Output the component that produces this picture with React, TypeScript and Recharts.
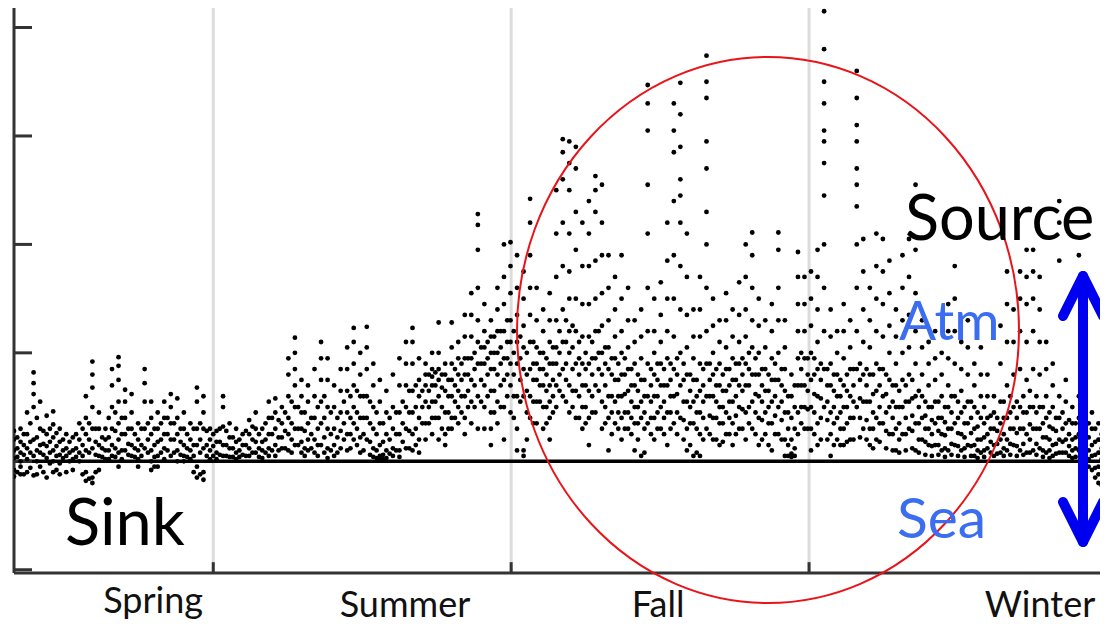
import { ReferenceLine, Scatter, ScatterChart, XAxis, YAxis } from 'recharts'

// each row: [day, ...flux values measured that day]
const springDays: number[][] = [
  [0, 0.28, 0.2, 0.1, 0.03, -0.08, -0.14],
  [1, 0.22, 0.12, 0.04, -0.1],
  [2, 0.3, 0.18, 0.08, -0.05, -0.12, 0.0],
  [3, 0.25, 0.15, 0.06, -0.12],
  [4, 0.45, 0.25, 0.12, 0.02, -0.1],
  [5, 0.35, 0.18, 0.08, -0.06],
  [6, 0.82, 0.72, 0.62, 0.5, 0.2, 0.05, -0.13],
  [7, 0.4, 0.22, 0.1, 0.0, -0.12],
  [8, 0.55, 0.3, 0.15, 0.08, -0.05],
  [9, 0.28, 0.16, 0.06, -0.1],
  [10, 0.42, 0.25, 0.14, 0.03, -0.15],
  [11, 0.3, 0.18, 0.08, -0.02],
  [12, 0.46, 0.34, 0.22, 0.1, 0.0, -0.1],
  [13, 0.26, 0.14, 0.05, -0.08],
  [14, 0.3, 0.18, 0.06, -0.02, -0.12],
  [15, 0.2, 0.1, 0.03],
  [16, 0.25, 0.12, 0.05, -0.1],
  [17, 0.18, 0.08, 0.0],
  [18, 0.22, 0.1, 0.02, -0.08],
  [19, 0.25, 0.12, 0.04],
  [20, 0.35, 0.2, 0.08, 0.0],
  [21, 0.3, 0.15, 0.05, -0.12],
  [22, 0.6, 0.4, 0.25, 0.1, -0.1, -0.18],
  [23, 0.35, 0.2, 0.08, -0.16],
  [24, 0.92, 0.8, 0.68, 0.5, 0.3, 0.12, -0.15, -0.2],
  [25, 0.3, 0.18, 0.06, -0.1],
  [26, 0.45, 0.3, 0.15, 0.05, -0.08],
  [27, 0.22, 0.12, 0.04],
  [28, 0.3, 0.2, 0.1, 0.02],
  [29, 0.4, 0.22, 0.1, 0.02],
  [30, 0.85, 0.7, 0.5, 0.3, 0.15, 0.05],
  [31, 0.45, 0.28, 0.12, 0.04],
  [32, 0.96, 0.88, 0.75, 0.55, 0.35, 0.2, 0.08, -0.05],
  [33, 0.4, 0.25, 0.1, 0.02],
  [34, 0.66, 0.55, 0.4, 0.25, 0.1],
  [35, 0.3, 0.16, 0.06],
  [36, 0.62, 0.45, 0.3, 0.15, 0.05],
  [37, 0.25, 0.12, 0.04],
  [38, 0.35, 0.2, 0.1, 0.02, -0.05],
  [39, 0.3, 0.15, 0.05],
  [40, 0.85, 0.72, 0.55, 0.3, 0.12],
  [41, 0.35, 0.2, 0.08],
  [42, 0.55, 0.4, 0.25, 0.1, 0.0, -0.08],
  [43, 0.3, 0.15, 0.04, -0.05],
  [44, 0.45, 0.3, 0.18, 0.05, -0.05],
  [45, 0.35, 0.2, 0.08],
  [46, 0.55, 0.4, 0.25, 0.12, 0.02],
  [47, 0.4, 0.25, 0.1],
  [48, 0.62, 0.5, 0.35, 0.2, 0.05],
  [49, 0.35, 0.2, 0.08],
  [50, 0.58, 0.4, 0.25, 0.1, 0.0],
  [51, 0.3, 0.18, 0.06],
  [52, 0.45, 0.3, 0.15, 0.05, 0.0],
  [53, 0.25, 0.12, 0.04],
  [54, 0.35, 0.2, 0.1, 0.02],
  [55, 0.3, 0.15, 0.05, -0.1],
  [56, 0.68, 0.55, 0.3, 0.15, -0.05, -0.15],
  [57, 0.35, 0.2, 0.08, -0.12],
  [58, 0.6, 0.45, 0.3, 0.12, -0.1, -0.17],
  [59, 0.28, 0.15, 0.05],
  [60, 0.3, 0.2, 0.1, 0.02],
]

const summerDays: number[][] = [
  [61, 0.25, 0.14, 0.05],
  [62, 0.28, 0.18, 0.08, 0.02],
  [63, 0.3, 0.18, 0.06],
  [64, 0.6, 0.5, 0.32, 0.15, 0.05],
  [65, 0.28, 0.15, 0.05],
  [66, 0.35, 0.22, 0.12, 0.04],
  [67, 0.22, 0.12, 0.04],
  [68, 0.3, 0.18, 0.08, 0.02],
  [69, 0.2, 0.1, 0.04],
  [70, 0.25, 0.15, 0.06],
  [71, 0.28, 0.15, 0.05],
  [72, 0.38, 0.25, 0.12, 0.05],
  [73, 0.32, 0.2, 0.08],
  [74, 0.45, 0.3, 0.18, 0.08],
  [75, 0.25, 0.12, 0.04],
  [76, 0.3, 0.18, 0.1, 0.03],
  [77, 0.35, 0.2, 0.08],
  [78, 0.55, 0.4, 0.25, 0.12, 0.05],
  [79, 0.4, 0.25, 0.1],
  [80, 0.58, 0.45, 0.3, 0.15, 0.05],
  [81, 0.38, 0.22, 0.1],
  [82, 0.5, 0.35, 0.22, 0.12],
  [83, 0.45, 0.28, 0.12],
  [84, 0.95, 0.8, 0.6, 0.4, 0.25, 0.1],
  [85, 0.55, 0.35, 0.2, 0.08],
  [86, 1.14, 1.0, 0.85, 0.7, 0.5, 0.3, 0.15],
  [87, 0.5, 0.3, 0.15],
  [88, 0.75, 0.6, 0.45, 0.3, 0.18, 0.08],
  [89, 0.45, 0.28, 0.12, 0.05],
  [90, 0.7, 0.55, 0.35, 0.2, 0.1],
  [91, 0.4, 0.25, 0.12],
  [92, 0.85, 0.6, 0.4, 0.2, 0.08],
  [93, 0.5, 0.3, 0.15, 0.05],
  [94, 1.1, 0.95, 0.75, 0.55, 0.35, 0.15],
  [95, 0.6, 0.4, 0.22, 0.08],
  [96, 0.95, 0.75, 0.5, 0.3, 0.12, 0.03],
  [97, 0.45, 0.25, 0.1],
  [98, 0.7, 0.5, 0.3, 0.15, 0.05],
  [99, 0.4, 0.22, 0.08],
  [100, 0.85, 0.65, 0.45, 0.28, 0.12],
  [101, 0.55, 0.35, 0.2],
  [102, 1.05, 0.85, 0.65, 0.45, 0.25, 0.1],
  [103, 0.6, 0.4, 0.25, 0.12],
  [104, 1.23, 1.1, 0.9, 0.7, 0.5, 0.35, 0.2],
  [105, 0.65, 0.45, 0.3, 0.15],
  [106, 1.0, 0.8, 0.6, 0.4, 0.22, 0.08],
  [107, 0.6, 0.4, 0.25, 0.1],
  [108, 1.24, 1.05, 0.85, 0.6, 0.4, 0.2],
  [109, 0.55, 0.35, 0.18, 0.06],
  [110, 0.9, 0.7, 0.5, 0.3, 0.12, 0.04],
  [111, 0.45, 0.25, 0.1, 0.03],
  [112, 0.75, 0.55, 0.35, 0.15, 0.05, 0.02],
  [113, 0.35, 0.18, 0.06, 0.02],
  [114, 0.65, 0.45, 0.25, 0.1, 0.03],
  [115, 0.4, 0.2, 0.07],
  [116, 0.8, 0.5, 0.3, 0.12, 0.05],
  [117, 0.45, 0.25, 0.1],
  [118, 0.95, 0.7, 0.45, 0.25, 0.1, 0.04],
  [119, 0.55, 0.35, 0.18],
  [120, 1.1, 0.9, 0.7, 0.5, 0.3, 0.12],
  [121, 0.65, 0.45, 0.28, 0.12],
  [122, 1.23, 1.1, 0.9, 0.65, 0.45, 0.25, 0.1],
  [123, 0.7, 0.5, 0.3, 0.15],
  [124, 0.95, 0.75, 0.6, 0.4, 0.2, 0.08],
  [125, 0.65, 0.5, 0.35],
  [126, 0.9, 0.8, 0.7, 0.55, 0.35, 0.2],
  [127, 0.8, 0.65, 0.5, 0.35],
  [128, 1.0, 0.85, 0.78, 0.7, 0.55, 0.4, 0.25],
  [129, 0.82, 0.7, 0.55, 0.4],
  [130, 1.28, 1.0, 0.85, 0.75, 0.6, 0.4, 0.2],
  [131, 0.8, 0.68, 0.5, 0.3],
  [132, 0.9, 0.8, 0.65, 0.45, 0.25, 0.15],
  [133, 0.75, 0.6, 0.45, 0.3],
  [134, 1.28, 1.05, 0.9, 0.75, 0.6, 0.4, 0.3],
  [135, 0.85, 0.7, 0.55, 0.4],
  [136, 1.1, 0.95, 0.8, 0.65, 0.5, 0.35],
  [137, 0.9, 0.75, 0.6, 0.45],
  [138, 1.35, 1.15, 0.95, 0.8, 0.6, 0.4, 0.25],
  [139, 0.95, 0.8, 0.65, 0.5],
  [140, 1.55, 1.35, 1.15, 0.95, 0.75, 0.55, 0.35],
  [141, 1.0, 0.85, 0.7, 0.5],
  [142, 2.28, 2.18, 1.95, 1.6, 1.3, 1.1, 0.9, 0.6, 0.3],
  [143, 1.05, 0.9, 0.75, 0.55],
  [144, 1.45, 1.2, 1.05, 0.9, 0.7, 0.5, 0.3],
  [145, 1.1, 0.95, 0.8, 0.6],
  [146, 1.3, 1.15, 1.0, 0.85, 0.65, 0.45, 0.3, 0.15],
  [147, 1.15, 1.0, 0.85, 0.65, 0.45],
  [148, 1.6, 1.4, 1.2, 1.0, 0.8, 0.55, 0.35],
  [149, 1.2, 1.05, 0.9, 0.7, 0.5],
  [150, 2.0, 1.7, 1.45, 1.2, 0.95, 0.75, 0.5, 0.2],
  [151, 1.3, 1.1, 0.95, 0.8, 0.6],
]

const fallDays: number[][] = [
  [152, 2.02, 1.8, 1.55, 1.3, 1.1, 0.9, 0.7, 0.45],
  [153, 1.2, 1.0, 0.8, 0.6, 0.4],
  [154, 1.9, 1.6, 1.35, 1.1, 0.9, 0.6, 0.3, 0.1],
  [155, 1.15, 0.95, 0.75, 0.55],
  [156, 1.75, 1.5, 1.25, 1.05, 0.85, 0.6, 0.1, 0.05],
  [157, 1.0, 0.8, 0.65, 0.45, 0.2],
  [158, 2.42, 2.2, 1.9, 1.6, 1.35, 1.1, 0.85, 0.6, 0.4],
  [159, 1.1, 0.9, 0.75, 0.55, 0.35],
  [160, 1.6, 1.3, 1.05, 0.9, 0.75, 0.55, 0.35],
  [161, 1.0, 0.85, 0.7, 0.55],
  [162, 1.4, 1.2, 1.0, 0.85, 0.7, 0.5, 0.3],
  [163, 0.95, 0.8, 0.65, 0.5, 0.35],
  [164, 1.55, 1.3, 1.1, 0.9, 0.7, 0.55, 0.4, 0.2],
  [165, 1.05, 0.9, 0.75, 0.6, 0.45],
  [166, 2.5, 2.1, 1.7, 1.3, 1.05, 0.9, 0.7, 0.5],
  [167, 1.2, 1.0, 0.8, 0.65],
  [168, 2.97, 2.85, 2.6, 2.2, 1.8, 1.4, 1.1, 0.85, 0.6],
  [169, 1.3, 1.1, 0.9, 0.75, 0.55],
  [170, 2.95, 2.75, 2.5, 2.1, 1.75, 1.5, 1.2, 1.0, 0.7, 0.45],
  [171, 1.25, 1.05, 0.85, 0.65, 0.5],
  [172, 2.9, 2.7, 2.3, 1.95, 1.5, 1.2, 0.9, 0.65, 0.4],
  [173, 1.1, 0.95, 0.8, 0.6, 0.4],
  [174, 2.2, 1.8, 1.45, 1.15, 0.9, 0.7, 0.5, 0.3],
  [175, 1.0, 0.85, 0.7, 0.5, 0.35],
  [176, 2.4, 2.1, 1.8, 1.45, 1.15, 0.9, 0.65, 0.4, 0.15],
  [177, 1.1, 0.95, 0.8, 0.6, 0.45],
  [178, 2.63, 2.5, 2.3, 1.85, 1.5, 1.2, 0.95, 0.7, 0.45],
  [179, 1.2, 1.0, 0.85, 0.65],
  [180, 2.55, 2.2, 1.9, 1.55, 1.25, 1.0, 0.8, 0.55, 0.3],
  [181, 1.05, 0.9, 0.7, 0.5, 0.35],
  [182, 1.9, 1.6, 1.3, 1.05, 0.85, 0.6, 0.4, 0.1],
  [183, 0.95, 0.8, 0.6, 0.45, 0.25],
  [184, 1.7, 1.4, 1.15, 0.95, 0.75, 0.55, 0.35],
  [185, 0.9, 0.75, 0.6, 0.45, 0.3],
  [186, 1.9, 1.5, 1.2, 1.0, 0.8, 0.6, 0.4, 0.2],
  [187, 0.95, 0.8, 0.62, 0.45, 0.3],
  [188, 1.6, 1.3, 1.05, 0.85, 0.65, 0.45, 0.3],
  [189, 0.85, 0.7, 0.55, 0.4, 0.25],
  [190, 1.3, 1.1, 0.9, 0.7, 0.5, 0.35, 0.1],
  [191, 0.8, 0.65, 0.5, 0.35, 0.2],
  [192, 1.4, 1.15, 0.95, 0.75, 0.55, 0.4, 0.05],
  [193, 0.75, 0.6, 0.45, 0.3, 0.08],
  [194, 3.47, 3.3, 3.05, 2.55, 2.1, 1.6, 1.2, 0.9, 0.6, 0.35],
  [195, 0.85, 0.7, 0.55, 0.4, 0.25],
  [196, 1.5, 1.2, 1.0, 0.8, 0.6, 0.4, 0.2],
  [197, 0.9, 0.75, 0.6, 0.45, 0.3],
  [198, 1.65, 1.35, 1.1, 0.9, 0.7, 0.5, 0.3],
  [199, 0.85, 0.7, 0.55, 0.4, 0.25],
  [200, 2.2, 1.85, 1.5, 1.2, 0.95, 0.7, 0.45, 0.15],
  [201, 0.9, 0.75, 0.6, 0.45, 0.3],
  [202, 3.3, 3.05, 2.85, 2.4, 1.9, 1.5, 1.15, 0.85, 0.6, 0.35],
  [203, 0.95, 0.8, 0.62, 0.45, 0.25],
  [204, 3.49, 3.2, 2.9, 2.6, 2.45, 2.2, 1.8, 1.4, 1.0, 0.7, 0.4],
  [205, 0.9, 0.75, 0.55, 0.38, 0.2],
  [206, 2.1, 1.7, 1.35, 1.05, 0.8, 0.55, 0.3, 0.1],
  [207, 0.8, 0.65, 0.5, 0.35, 0.15],
  [208, 1.4, 1.15, 0.95, 0.75, 0.55, 0.35, 0.05],
  [209, 0.75, 0.6, 0.45, 0.3, 0.08],
  [210, 1.7, 1.4, 1.15, 0.9, 0.65, 0.45, 0.25, 0.05],
  [211, 0.85, 0.7, 0.55, 0.4, 0.2],
  [212, 3.74, 3.5, 3.35, 2.95, 2.7, 2.3, 2.0, 1.6, 1.2, 0.9, 0.6, 0.3],
  [213, 0.9, 0.75, 0.6, 0.42, 0.25],
  [214, 1.5, 1.25, 1.0, 0.8, 0.6, 0.4, 0.2],
  [215, 0.85, 0.7, 0.55, 0.4, 0.2],
  [216, 1.3, 1.1, 0.9, 0.7, 0.5, 0.35, 0.15],
  [217, 0.8, 0.65, 0.5, 0.35, 0.18],
  [218, 1.55, 1.3, 1.05, 0.85, 0.65, 0.45, 0.25],
  [219, 0.85, 0.7, 0.55, 0.4, 0.25],
  [220, 1.4, 1.15, 0.95, 0.75, 0.55, 0.35, 0.15],
  [221, 0.9, 0.75, 0.6, 0.42, 0.25],
  [222, 1.65, 1.35, 1.1, 0.9, 0.7, 0.5, 0.3],
  [223, 0.95, 0.8, 0.65, 0.48, 0.3],
  [224, 2.0, 1.7, 1.4, 1.15, 0.9, 0.7, 0.45, 0.2],
  [225, 1.0, 0.85, 0.7, 0.5, 0.35],
  [226, 2.11, 1.9, 1.6, 1.3, 1.05, 0.8, 0.55, 0.3],
  [227, 0.95, 0.8, 0.62, 0.45, 0.25],
  [228, 1.5, 1.25, 1.0, 0.8, 0.6, 0.4, 0.15],
  [229, 0.85, 0.7, 0.55, 0.38, 0.2],
  [230, 1.3, 1.05, 0.85, 0.65, 0.45, 0.25],
  [231, 0.8, 0.65, 0.5, 0.35, 0.15],
  [232, 1.45, 1.2, 0.95, 0.75, 0.55, 0.35, 0.1],
  [233, 0.9, 0.75, 0.6, 0.42, 0.25],
  [234, 2.11, 1.95, 1.6, 1.3, 1.0, 0.75, 0.5, 0.25],
  [235, 0.85, 0.7, 0.55, 0.38, 0.2],
  [236, 1.3, 1.05, 0.85, 0.65, 0.45, 0.2, 0.05],
  [237, 0.6, 0.45, 0.3, 0.15, 0.05],
  [238, 0.8, 0.6, 0.4, 0.2, 0.07, 0.04],
  [239, 0.7, 0.5, 0.3, 0.12, 0.05],
  [240, 1.93, 1.7, 1.45, 1.2, 0.95, 0.7, 0.45, 0.25],
  [241, 1.0, 0.85, 0.7, 0.5, 0.35],
  [242, 1.7, 1.45, 1.2, 0.95, 0.7, 0.5, 0.3],
  [243, 0.95, 0.8, 0.65, 0.48, 0.3],
]

const winterDays: number[][] = [
  [244, 1.75, 1.5, 1.25, 1.0, 0.75, 0.5, 0.3, 0.1],
  [245, 0.95, 0.8, 0.62, 0.45, 0.25],
  [246, 1.95, 1.7, 1.4, 1.1, 0.85, 0.6, 0.35, 0.15],
  [247, 0.9, 0.75, 0.58, 0.4, 0.2],
  [248, 4.15, 3.8, 3.5, 3.3, 3.05, 2.95, 2.75, 2.45, 2.0, 1.6, 1.2, 0.85, 0.5],
  [249, 0.85, 0.7, 0.55, 0.38, 0.2],
  [250, 1.4, 1.15, 0.9, 0.7, 0.45, 0.25, 0.05],
  [251, 0.8, 0.65, 0.5, 0.35, 0.15],
  [252, 1.2, 1.0, 0.8, 0.6, 0.4, 0.2],
  [253, 0.75, 0.6, 0.45, 0.3, 0.15],
  [254, 1.45, 1.2, 0.95, 0.7, 0.5, 0.3, 0.15],
  [255, 0.8, 0.65, 0.5, 0.35, 0.18],
  [256, 1.3, 1.05, 0.85, 0.6, 0.4, 0.2],
  [257, 0.85, 0.7, 0.55, 0.4, 0.2],
  [258, 3.6, 3.35, 3.1, 2.95, 2.7, 2.55, 2.35, 2.0, 1.6, 1.2, 0.85, 0.5],
  [259, 0.9, 0.75, 0.58, 0.4, 0.22],
  [260, 2.05, 1.75, 1.4, 1.1, 0.8, 0.55, 0.3],
  [261, 0.85, 0.7, 0.55, 0.38, 0.2],
  [262, 1.6, 1.3, 1.05, 0.8, 0.55, 0.3, 0.15],
  [263, 0.8, 0.62, 0.45, 0.3, 0.12],
  [264, 2.1, 1.8, 1.5, 1.2, 0.9, 0.65, 0.4, 0.2],
  [265, 0.85, 0.7, 0.5, 0.35, 0.18],
  [266, 2.05, 1.75, 1.45, 1.15, 0.85, 0.6, 0.35],
  [267, 0.8, 0.62, 0.45, 0.28, 0.12],
  [268, 1.85, 1.55, 1.25, 1.0, 0.75, 0.5, 0.25],
  [269, 0.7, 0.55, 0.4, 0.25, 0.1],
  [270, 1.4, 1.15, 0.9, 0.7, 0.5, 0.3, 0.1],
  [271, 0.65, 0.5, 0.35, 0.2, 0.08],
  [272, 1.9, 1.6, 1.3, 1.0, 0.75, 0.5, 0.25],
  [273, 0.7, 0.55, 0.4, 0.25, 0.1],
  [274, 2.05, 1.7, 1.35, 1.05, 0.8, 0.55, 0.3],
  [275, 0.75, 0.58, 0.42, 0.28, 0.12],
  [276, 2.55, 2.3, 1.95, 1.55, 1.2, 0.9, 0.6, 0.35, 0.1],
  [277, 0.65, 0.5, 0.35, 0.2, 0.08],
  [278, 1.3, 1.05, 0.8, 0.6, 0.4, 0.2],
  [279, 0.55, 0.42, 0.3, 0.18, 0.06],
  [280, 1.1, 0.9, 0.7, 0.5, 0.3, 0.15],
  [281, 0.5, 0.38, 0.25, 0.14, 0.05],
  [282, 1.2, 0.95, 0.75, 0.55, 0.35, 0.15],
  [283, 0.55, 0.4, 0.28, 0.15, 0.06],
  [284, 1.0, 0.8, 0.6, 0.4, 0.25, 0.1],
  [285, 0.5, 0.36, 0.24, 0.12, 0.04],
  [286, 1.45, 1.2, 0.95, 0.7, 0.5, 0.3, 0.1],
  [287, 0.6, 0.45, 0.3, 0.16, 0.06],
  [288, 1.8, 1.5, 1.2, 0.9, 0.6, 0.35, 0.15],
  [289, 0.55, 0.4, 0.26, 0.14, 0.05],
  [290, 1.1, 0.85, 0.65, 0.45, 0.25, 0.1],
  [291, 0.5, 0.35, 0.22, 0.12, 0.04],
  [292, 1.3, 1.05, 0.8, 0.55, 0.35, 0.15],
  [293, 0.55, 0.4, 0.26, 0.14, 0.05],
  [294, 0.9, 0.7, 0.5, 0.3, 0.15, 0.05],
  [295, 0.45, 0.32, 0.2, 0.1, 0.03],
  [296, 1.05, 0.8, 0.6, 0.4, 0.2, 0.08],
  [297, 0.5, 0.35, 0.22, 0.1, 0.04],
  [298, 0.8, 0.6, 0.4, 0.25, 0.12],
  [299, 0.42, 0.3, 0.18, 0.08],
  [300, 0.6, 0.45, 0.3, 0.15, 0.05],
  [301, 0.4, 0.28, 0.16, 0.07],
  [302, 1.25, 0.9, 0.55, 0.35, 0.2, 0.08],
  [303, 0.55, 0.4, 0.25, 0.12, 0.05],
  [304, 1.75, 1.45, 1.1, 0.7, 0.4, 0.2, 0.1],
  [305, 0.6, 0.45, 0.3, 0.16, 0.06],
  [306, 1.4, 1.1, 0.8, 0.5, 0.3, 0.15],
  [307, 0.55, 0.4, 0.26, 0.14, 0.05],
  [308, 1.75, 1.5, 1.2, 0.85, 0.5, 0.3, 0.1],
  [309, 0.6, 0.45, 0.3, 0.16, 0.06],
  [310, 1.95, 1.7, 1.45, 1.1, 0.75, 0.45, 0.25, 0.08],
  [311, 0.65, 0.5, 0.34, 0.2, 0.08],
  [312, 1.95, 1.75, 1.5, 1.2, 0.85, 0.5, 0.3, 0.1],
  [313, 0.6, 0.45, 0.3, 0.16, 0.06],
  [314, 1.7, 1.4, 1.1, 0.8, 0.5, 0.3, 0.12],
  [315, 0.5, 0.35, 0.22, 0.1, 0.04],
  [316, 1.1, 0.85, 0.6, 0.4, 0.22, 0.08],
  [317, 0.45, 0.32, 0.2, 0.1, 0.03],
  [318, 0.9, 0.7, 0.5, 0.3, 0.15, 0.05],
  [319, 0.4, 0.28, 0.16, 0.07],
  [320, 2.4, 2.2, 1.85, 0.6, 0.4, 0.2, 0.08],
  [321, 0.45, 0.3, 0.18, 0.08],
  [322, 0.75, 0.55, 0.35, 0.2, 0.08],
  [323, 0.38, 0.25, 0.14, 0.05],
  [324, 0.5, 0.35, 0.2, 0.1, 0.03],
  [325, 0.35, 0.22, 0.12, 0.04],
  [326, 1.9, 1.6, 0.6, 0.4, 0.25, 0.1],
  [327, 0.4, 0.28, 0.15, 0.06],
  [328, 0.55, 0.4, 0.25, 0.12, 0.02],
  [329, 0.35, 0.22, 0.1, 0.02, -0.05],
  [330, 0.45, 0.3, 0.15, 0.05, -0.08],
  [331, 0.3, 0.18, 0.06, -0.06, -0.15],
  [332, 0.35, 0.2, 0.08, -0.05, -0.12, -0.2],
  [333, 0.25, 0.12, 0.02, -0.12, -0.22],
  [334, 0.3, 0.15, 0.03, -0.1],
]

const seasonLabels = ['Spring', 'Summer', 'Fall', 'Winter']
const seasonLabelDays = [42.6, 119.7, 197.2, 314.1]
const seasonBoundaries = [61, 152.2, 243.4]
const yTicks = [-1, 0, 1, 2, 3, 4]

const points = [...springDays, ...summerDays, ...fallDays, ...winterDays].flatMap(([day, ...vals]) =>
  vals.map((flux) => ({ day, flux }))
)

const FONT = 'Lato, "Open Sans", sans-serif'

function SeasonTick({ x, y, payload }: any) {
  const i = seasonLabelDays.indexOf(payload.value)
  const dy = i === 0 ? 32 : 36
  return (
    <text x={x} y={y + dy} textAnchor="middle" fontFamily={FONT} fontSize={36} fill="#111">
      {seasonLabels[i]}
    </text>
  )
}

const dot = (p: any) => <circle cx={p.cx} cy={p.cy} r={2.4} fill="#000" />

export default function App() {
  return (
    <div style={{ position: 'relative', width: 1100, height: 616 }}>
      <ScatterChart width={1100} height={616} margin={{ top: 0, right: 3, bottom: 0, left: 6 }}>
        <XAxis
          type="number"
          dataKey="day"
          domain={[0, 334]}
          ticks={seasonLabelDays}
          tick={<SeasonTick />}
          tickLine={false}
          height={51}
          axisLine={{ stroke: '#333', strokeWidth: 3 }}
          allowDataOverflow
        />
        <YAxis
          type="number"
          dataKey="flux"
          domain={[-1.03, 4.18]}
          ticks={yTicks}
          tick={() => <g />}
          mirror
          tickSize={18}
          tickLine={{ stroke: '#333', strokeWidth: 3 }}
          axisLine={{ stroke: '#333', strokeWidth: 3 }}
          allowDataOverflow
        />
        {seasonBoundaries.map((d) => (
          <ReferenceLine key={d} x={d} stroke="#dcdcdc" strokeWidth={3} />
        ))}
        {seasonBoundaries.map((d) => (
          <ReferenceLine
            key={'t' + d}
            segment={[{ x: d, y: -1.03 }, { x: d, y: -0.93 }]}
            stroke="#333"
            strokeWidth={3}
          />
        ))}
        <ReferenceLine y={0} stroke="#000" strokeWidth={3.5} />
        <Scatter data={points} shape={dot} isAnimationActive={false} />
      </ScatterChart>
      <svg
        width={1108}
        height={624}
        style={{ position: 'absolute', left: -8, top: -8, pointerEvents: 'none', overflow: 'visible' }}
      >
        <ellipse cx={768} cy={330} rx={251} ry={273} fill="none" stroke="#e8141a" strokeWidth={2} />
        <g stroke="#0000f0" strokeWidth={10} strokeLinecap="round" strokeLinejoin="round" fill="none">
          <line x1={1083} y1={276} x2={1083} y2={542} />
          <polyline points="1063,316 1083,276 1103,316" />
          <polyline points="1063,502 1083,542 1103,502" />
        </g>
        <g fontFamily={FONT}>
          <text x={65} y={545} fontSize={65} fill="#000">Sink</text>
          <text x={905} y={240} fontSize={63} fill="#000">Source</text>
          <text x={899} y={340} fontSize={55} fill="#3a6df0">Atm</text>
          <text x={897} y={538} fontSize={57} fill="#3a6df0">Sea</text>
        </g>
      </svg>
    </div>
  )
}
